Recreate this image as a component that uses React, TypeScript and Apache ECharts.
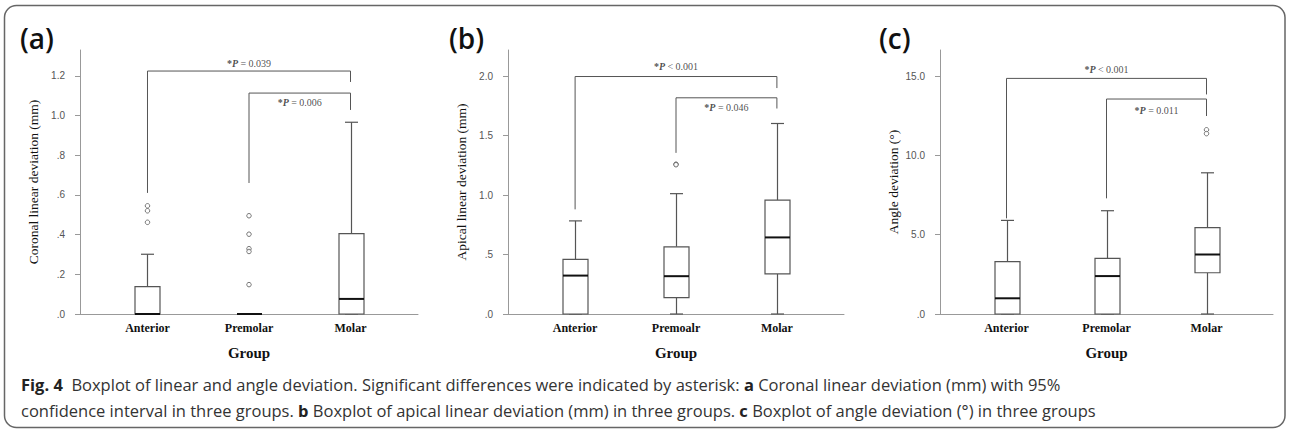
import React, { useEffect, useRef } from 'react';
import * as echarts from 'echarts';

// ---------- data ----------
const groupsA = ['Anterior', 'Premolar', 'Molar'];
const groupsB = ['Anterior', 'Premoalr', 'Molar'];
const groupsC = ['Anterior', 'Premolar', 'Molar'];

// [min, Q1, median, Q3, max]
const coronalBoxes = [
  [0, 0, 0, 0.138, 0.301],
  [0, 0, 0, 0, 0],
  [0, 0, 0.076, 0.405, 0.966],
];
const coronalOutliers = [
  [1, 0.545], [1, 0.52], [1, 0.462],
  [2, 0.495], [2, 0.402], [2, 0.329], [2, 0.315], [2, 0.148],
];
const apicalBoxes = [
  [0, 0, 0.323, 0.46, 0.783],
  [0, 0.137, 0.318, 0.565, 1.012],
  [0, 0.337, 0.644, 0.958, 1.602],
];
const apicalOutliers = [[2, 1.26], [2, 1.255]];
const angleBoxes = [
  [0, 0, 0.99, 3.3, 5.9],
  [0, 0, 2.39, 3.5, 6.51],
  [0, 2.6, 3.75, 5.45, 8.9],
];
const angleOutliers = [[3, 11.61], [3, 11.37]];

const coronalTicks = [0, 0.2, 0.4, 0.6, 0.8, 1.0, 1.2];
const apicalTicks = [0, 0.5, 1.0, 1.5, 2.0];
const angleTicks = [0, 5, 10, 15];

const coronalBrackets = [
  [[1, 0.61], [1, 1.224], [3, 1.224], [3, 1.169]],
  [[2, 0.66], [2, 1.113], [3, 1.113], [3, 1.028]],
];
const apicalBrackets = [
  [[1, 0.88], [1, 1.997], [3, 1.997], [3, 1.9]],
  [[2, 1.355], [2, 1.818], [3, 1.818], [3, 1.728]],
];
const angleBrackets = [
  [[1, 6.03], [1, 14.85], [3, 14.85], [3, 13.84]],
  [[2, 7.29], [2, 13.55], [3, 13.55], [3, 12.48]],
];

// [x, y, operator, p]
const coronalP = [[2, 1.264, '=', '0.039'], [2.5, 1.063, '=', '0.006']];
const apicalP = [[2, 2.078, '<', '0.001'], [2.5, 1.734, '=', '0.046']];
const angleP = [[2, 15.44, '<', '0.001'], [2.5, 12.85, '=', '0.011']];

const yMaxes = [1.33, 2.22, 16.64];
const yNames = ['Coronal linear deviation (mm)', 'Apical linear deviation (mm)', 'Angle deviation (°)'];
const panelTags = ['(a)', '(b)', '(c)'];

const captionLine1 = '{b|Fig. 4}  Boxplot of linear and angle deviation. Significant differences were indicated by asterisk: {b|a} Coronal linear deviation (mm) with 95%';
const captionLine2 = 'confidence interval in three groups. {b|b} Boxplot of apical linear deviation (mm) in three groups. {b|c} Boxplot of angle deviation (°) in three groups';

// ---------- layout ----------
const grids = [
  { left: 80, top: 50, width: 338, height: 264 },
  { left: 508, top: 50, width: 336, height: 264 },
  { left: 940, top: 50, width: 333, height: 264 },
];
const tagPos = [[20, 38], [449, 38], [879, 38]];

const SERIF = '"Liberation Serif", "Times New Roman", serif';
const SANS = '"Liberation Sans", Arial, sans-serif';
const CAP = '"Open Sans", "Noto Sans", sans-serif';
const CAP_SIZE = 16.5;

function fmtTick(v: number) {
  return v.toFixed(1).replace(/^0\./, '.');
}

function renderBox(params: any, api: any) {
  const x = api.value(0);
  const lo = api.coord([x, api.value(1)]);
  const q1 = api.coord([x, api.value(2)]);
  const md = api.coord([x, api.value(3)]);
  const q3 = api.coord([x, api.value(4)]);
  const hi = api.coord([x, api.value(5)]);
  const cx = Math.round(lo[0]) + 0.5;
  const hw = 12.5;
  const cw = 6.5;
  const ls = { stroke: '#555', lineWidth: 1.2 };
  return {
    type: 'group',
    children: [
      { type: 'line', shape: { x1: cx, y1: hi[1], x2: cx, y2: q3[1] }, style: ls },
      { type: 'line', shape: { x1: cx, y1: q1[1], x2: cx, y2: lo[1] }, style: ls },
      { type: 'line', shape: { x1: cx - cw, y1: hi[1], x2: cx + cw, y2: hi[1] }, style: ls },
      { type: 'line', shape: { x1: cx - cw, y1: lo[1], x2: cx + cw, y2: lo[1] }, style: ls },
      {
        type: 'rect',
        shape: { x: cx - hw, y: q3[1], width: 2 * hw, height: q1[1] - q3[1] },
        style: { fill: '#fff', stroke: '#555', lineWidth: 1.2 },
      },
      { type: 'line', shape: { x1: cx - hw, y1: md[1], x2: cx + hw, y2: md[1] }, style: { stroke: '#111', lineWidth: 2 } },
    ],
  };
}

export default function App() {
  const ref = useRef<HTMLDivElement>(null);
  useEffect(() => {
    if (!ref.current) return;
    const chart = echarts.init(ref.current, null, { renderer: 'svg' });
    const groups = [groupsA, groupsB, groupsC];
    const boxes = [coronalBoxes, apicalBoxes, angleBoxes];
    const outliers = [coronalOutliers, apicalOutliers, angleOutliers];
    const ticks = [coronalTicks, apicalTicks, angleTicks];
    const brackets = [coronalBrackets, apicalBrackets, angleBrackets];
    const pLabels = [coronalP, apicalP, angleP];

    const xAxis = groups.map((g, i) => ({
      type: 'value',
      gridIndex: i,
      min: 0.335,
      max: 3.665,
      name: 'Group',
      nameLocation: 'middle',
      nameGap: 31,
      nameTextStyle: { fontFamily: SERIF, fontSize: 15, fontWeight: 'bold', color: '#111' },
      axisLine: { lineStyle: { color: '#999', width: 1 } },
      axisTick: { show: false },
      splitLine: { show: false },
      axisLabel: {
        customValues: [1, 2, 3],
        formatter: (v: number) => g[Math.round(v) - 1] || '',
        fontFamily: SERIF,
        fontSize: 12,
        fontWeight: 'bold',
        color: '#111',
        margin: 8,
      },
    }));
    const yAxis = ticks.map((t, i) => ({
      type: 'value',
      gridIndex: i,
      min: 0,
      max: yMaxes[i],
      name: yNames[i],
      nameLocation: 'middle',
      nameGap: 40,
      nameTextStyle: { fontFamily: SERIF, fontSize: 13.5, color: '#111' },
      axisLine: { show: true, lineStyle: { color: '#999', width: 1 } },
      axisTick: { show: true, customValues: t, length: 5, lineStyle: { color: '#999' } },
      splitLine: { show: false },
      axisLabel: {
        customValues: t,
        formatter: (v: number) => fmtTick(v),
        fontFamily: SANS,
        fontSize: 10,
        color: '#555',
        margin: 15,
      },
    }));

    const series: any[] = [];
    for (let i = 0; i < 3; i++) {
      brackets[i].forEach((b) => {
        series.push({
          type: 'line',
          xAxisIndex: i,
          yAxisIndex: i,
          data: b,
          showSymbol: false,
          symbol: 'none',
          silent: true,
          lineStyle: { color: '#555', width: 1 },
          z: 1,
        });
      });
      series.push({
        type: 'custom',
        xAxisIndex: i,
        yAxisIndex: i,
        data: boxes[i].map((b, k) => [k + 1, ...b]),
        encode: { x: 0, y: [1, 2, 3, 4, 5] },
        renderItem: renderBox,
        z: 2,
      });
      series.push({
        type: 'scatter',
        xAxisIndex: i,
        yAxisIndex: i,
        data: outliers[i],
        symbol: 'circle',
        symbolSize: 4.5,
        itemStyle: { color: '#fff', borderColor: '#555', borderWidth: 1 },
        z: 3,
      });
      series.push({
        type: 'scatter',
        xAxisIndex: i,
        yAxisIndex: i,
        data: pLabels[i],
        symbolSize: 1,
        itemStyle: { color: 'rgba(0,0,0,0)' },
        silent: true,
        label: {
          show: true,
          position: 'inside',
          formatter: (p: any) => `{s|*}{p|P}{n| ${p.data[2]} ${p.data[3]}}`,
          rich: {
            s: { fontFamily: SERIF, fontSize: 10, fontWeight: 'bold', color: '#222' },
            p: { fontFamily: SERIF, fontSize: 10, fontWeight: 'bold', fontStyle: 'italic', color: '#222' },
            n: { fontFamily: SERIF, fontSize: 10, color: '#222' },
          },
        },
        z: 4,
      });
    }

    const captionStyle = (text: string) => ({
      text,
      fontFamily: CAP,
      fontSize: CAP_SIZE,
      fill: '#333',
      verticalAlign: 'middle',
      rich: { b: { fontFamily: CAP, fontSize: CAP_SIZE, fontWeight: 'bold', fill: '#222' } },
    });

    const graphic: any[] = [
      {
        type: 'rect',
        shape: { x: 4.5, y: 5.5, width: 1280.5, height: 422, r: 12 },
        style: { fill: 'none', stroke: '#666', lineWidth: 1.5 },
        silent: true,
      },
      ...panelTags.map((t, i) => ({
        type: 'text',
        x: tagPos[i][0],
        y: tagPos[i][1],
        style: {
          text: t,
          fontFamily: CAP,
          fontSize: 28,
          fontWeight: 600,
          fill: '#111',
          verticalAlign: 'middle',
        },
      })),
      { type: 'text', x: 21, y: 384, style: captionStyle(captionLine1) },
      { type: 'text', x: 21, y: 410, style: captionStyle(captionLine2) },
    ];

    chart.setOption({
      animation: false,
      backgroundColor: '#fff',
      grid: grids.map((g) => ({ ...g, containLabel: false })),
      xAxis,
      yAxis,
      series,
      graphic,
    });
    return () => chart.dispose();
  }, []);
  return (
    <div
      ref={ref}
      style={{ position: 'absolute', left: 0, top: 0, width: 1290, height: 431 }}
    />
  );
}
